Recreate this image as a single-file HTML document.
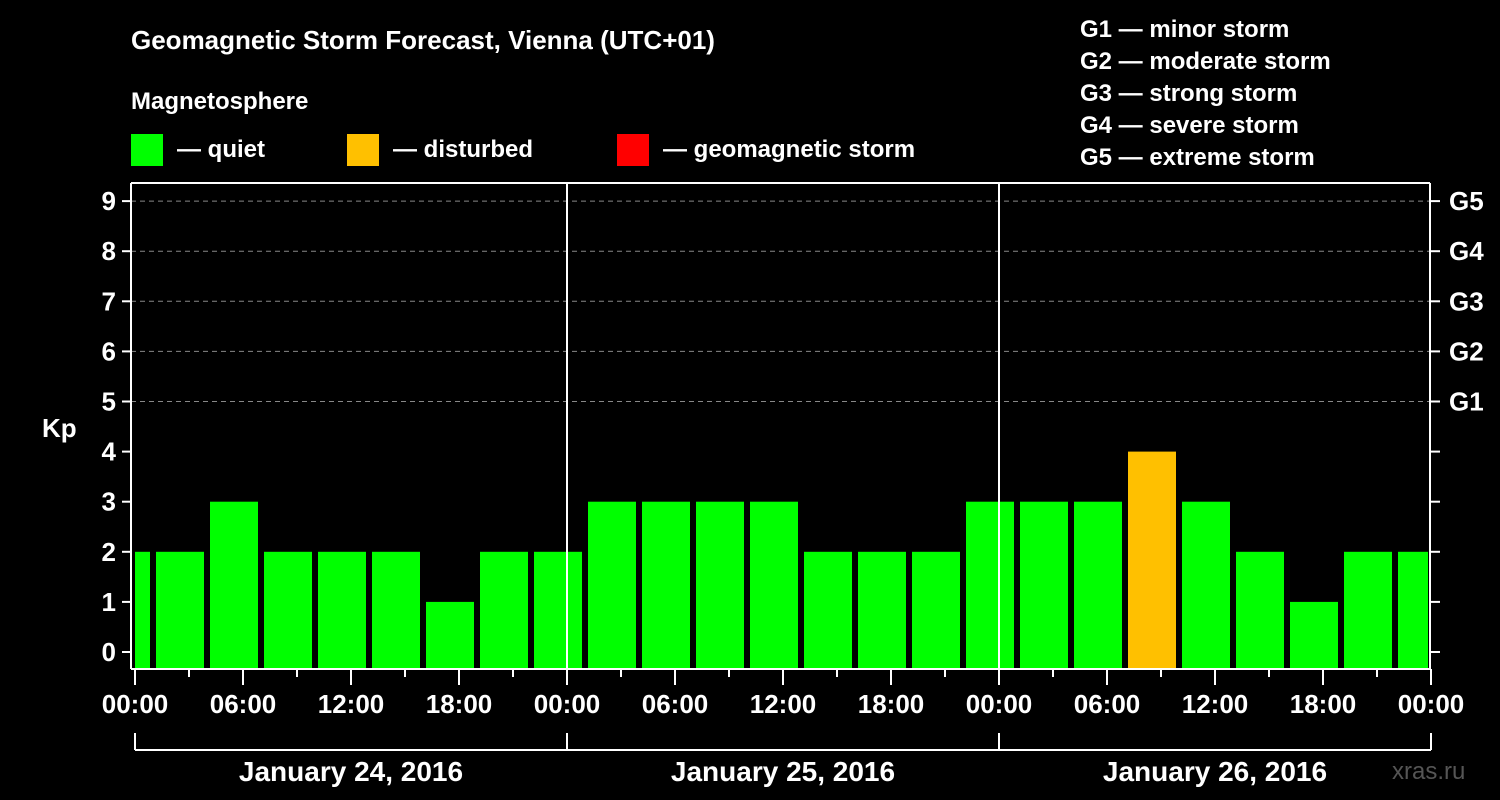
<!DOCTYPE html>
<html><head><meta charset="utf-8"><style>
body{margin:0;background:#000;width:1500px;height:800px;overflow:hidden}
svg{display:block;font-family:"Liberation Sans",sans-serif;font-weight:bold}
</style></head><body>
<svg id="c" width="1500" height="800" xmlns="http://www.w3.org/2000/svg">
<text x="131" y="49" fill="#fff" font-size="26">Geomagnetic Storm Forecast, Vienna (UTC+01)</text>
<text x="131" y="109" fill="#fff" font-size="24">Magnetosphere</text>
<g><rect x="131" y="134" width="32" height="32" fill="#00ff00"/><text x="177" y="157" fill="#fff" font-size="24">— quiet</text></g>
<g><rect x="347" y="134" width="32" height="32" fill="#ffc000"/><text x="393" y="157" fill="#fff" font-size="24">— disturbed</text></g>
<g><rect x="617" y="134" width="32" height="32" fill="#ff0000"/><text x="663" y="157" fill="#fff" font-size="24">— geomagnetic storm</text></g>
<g fill="#fff" font-size="24">
<text x="1080" y="37">G1 — minor storm</text><text x="1080" y="69">G2 — moderate storm</text><text x="1080" y="101">G3 — strong storm</text><text x="1080" y="133">G4 — severe storm</text><text x="1080" y="165">G5 — extreme storm</text></g>
<text x="42" y="437" fill="#fff" font-size="26">Kp</text>
<text x="1392" y="779" fill="#555" font-size="24" font-weight="normal">xras.ru</text>
<g id="grid"></g><g id="bars"></g><g id="axes"></g>
</svg>
<script>
const kpValues=[2,2,3,2,2,2,1,2,2,3,3,3,3,2,2,2,3,3,3,4,3,2,1,2,2];
const startHour=-2;
const yTicks=[0,1,2,3,4,5,6,7,8,9];
const gLabels=["G1","G2","G3","G4","G5"];
const hourLabels=["00:00","06:00","12:00","18:00"];
const dayLabels=["January 24, 2016","January 25, 2016","January 26, 2016"];
const NS="http://www.w3.org/2000/svg";
const X0=135,PX=18,Y0=652,PY=50.1,L=131,R=1430,T=183,B=669;
const x=h=>X0+h*PX, y=v=>Y0-v*PY;
function mk(p,tag,a){const e=document.createElementNS(NS,tag);for(const k in a)e.setAttribute(k,a[k]);document.getElementById(p).appendChild(e);return e;}
// grid
for(let v=5;v<=9;v++){const e=mk('grid','line',{x1:L,x2:R,y1:y(v),y2:y(v),stroke:'#888','stroke-dasharray':'5,4','stroke-width':1});

}
// bars
kpValues.forEach((v,i)=>{let h=startHour+i*3;let a=Math.max(x(h)+3,X0),b=Math.min(x(h+3)-3,R-2);
const e=mk('bars','rect',{x:a,y:y(v),width:b-a,height:B-1-y(v),fill:v>=5?'#ff0000':(v>=4?'#ffc000':'#00ff00')});

});
// axes
const w={stroke:'#fff','stroke-width':2};
mk('axes','line',{x1:L,x2:R,y1:T,y2:T,...w});
mk('axes','line',{x1:L,x2:L,y1:T,y2:B,...w});
mk('axes','line',{x1:R,x2:R,y1:T,y2:B,...w});
mk('axes','line',{x1:L,x2:R,y1:B,y2:B,...w});
[1,2].forEach(d=>{const e=mk('axes','line',{x1:x(d*24),x2:x(d*24),y1:T,y2:B,...w});

});
yTicks.forEach(v=>{mk('axes','line',{x1:L-9,x2:L,y1:y(v),y2:y(v),...w});mk('axes','line',{x1:R,x2:R+10,y1:y(v),y2:y(v),...w});
const t=mk('axes','text',{x:L-15,y:y(v)+9,fill:'#fff','font-size':26,'text-anchor':'end'});t.textContent=v;

});
gLabels.forEach((g,i)=>{const t=mk('axes','text',{x:R+19,y:y(5+i)+9,fill:'#fff','font-size':26});t.textContent=g;

});
for(let h=0;h<=72;h+=3){const long=h%6==0;mk('axes','line',{x1:x(h),x2:x(h),y1:B,y2:B+(long?16:8),...w});
if(long){const t=mk('axes','text',{x:x(h),y:B+44,fill:'#fff','font-size':26,'text-anchor':'middle'});t.textContent=h%24==0?"00:00":hourLabels[(h%24)/6];

}}
mk('axes','line',{x1:x(0),x2:x(72),y1:750,y2:750,...w});
dayLabels.forEach((d,i)=>{mk('axes','line',{x1:x(i*24),x2:x(i*24),y1:733,y2:750,...w});
const t=mk('axes','text',{x:x(i*24+12),y:781,fill:'#fff','font-size':28,'text-anchor':'middle'});t.textContent=d;

});
mk('axes','line',{x1:x(72),x2:x(72),y1:733,y2:750,...w});
</script>
</body></html>
